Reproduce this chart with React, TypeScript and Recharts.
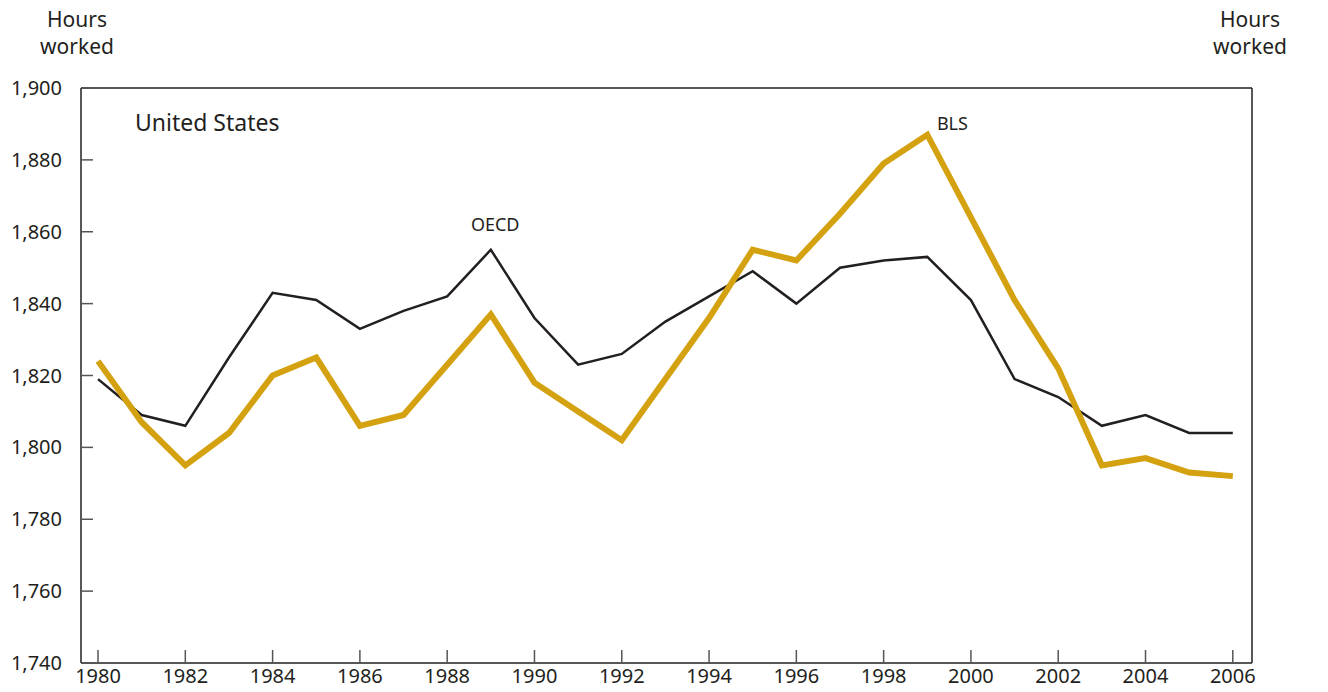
import { LineChart, Line, XAxis, YAxis, ReferenceLine, ReferenceDot } from "recharts";

const years = [
  1980, 1981, 1982, 1983, 1984, 1985, 1986, 1987, 1988, 1989, 1990, 1991, 1992,
  1993, 1994, 1995, 1996, 1997, 1998, 1999, 2000, 2001, 2002, 2003, 2004, 2005, 2006,
];
const oecd = [
  1819, 1809, 1806, 1825, 1843, 1841, 1833, 1838, 1842, 1855, 1836, 1823, 1826,
  1835, 1842, 1849, 1840, 1850, 1852, 1853, 1841, 1819, 1814, 1806, 1809, 1804, 1804,
];
const bls = [
  1824, 1807, 1795, 1804, 1820, 1825, 1806, 1809, 1823, 1837, 1818, 1810, 1802,
  1819, 1836, 1855, 1852, 1865, 1879, 1887, 1864, 1841, 1822, 1795, 1797, 1793, 1792,
];
const xTicks = [1980, 1982, 1984, 1986, 1988, 1990, 1992, 1994, 1996, 1998, 2000, 2002, 2004, 2006];
const yTicks = [1740, 1760, 1780, 1800, 1820, 1840, 1860, 1880, 1900];

const data = years.map((year, i) => ({ year, oecd: oecd[i], bls: bls[i] }));

const FONT = "'Noto Sans', 'Open Sans', sans-serif";
const INK = "#231f20";
const GOLD = "#d4a210";

const fmt = (v: number) => v.toLocaleString("en-US");

const tickStyle = { fill: INK, fontSize: 20, fontFamily: FONT };

// small text labels next to the two series
const seriesLabel = (text: string, anchor: "middle" | "start") => (props: any) => {
  const { viewBox } = props;
  return (
    <text x={viewBox.x} y={viewBox.y} fill={INK} fontSize={18} fontFamily={FONT} textAnchor={anchor}>
      {text}
    </text>
  );
};

export default function App() {
  return (
    <div style={{ position: "absolute", left: 0, top: 0, width: 1328, height: 692, background: "#fff" }}>
      <LineChart width={1328} height={692} data={data} margin={{ top: 88, right: 0, bottom: 0, left: 0 }}>
        <XAxis
          dataKey="year"
          type="number"
          domain={[1979.61, 2006.44]}
          ticks={xTicks}
          height={29}
          tickSize={-13}
          tickMargin={19}
          tick={tickStyle}
          axisLine={{ stroke: INK, strokeWidth: 1.5 }}
          tickLine={{ stroke: "#555", strokeWidth: 1.5 }}
          allowDataOverflow
        />
        <YAxis
          yAxisId="left"
          domain={[1740, 1900]}
          ticks={yTicks}
          width={81}
          tickSize={-12}
          tickMargin={31}
          tickFormatter={fmt}
          tick={tickStyle}
          axisLine={{ stroke: INK, strokeWidth: 1.5 }}
          tickLine={{ stroke: "#555", strokeWidth: 1.5 }}
        />
        <YAxis
          yAxisId="right"
          orientation="right"
          domain={[1740, 1900]}
          ticks={yTicks}
          width={76}
          tickSize={-12}
          tickMargin={19}
          tickFormatter={fmt}
          tick={tickStyle}
          axisLine={{ stroke: INK, strokeWidth: 1.5 }}
          tickLine={{ stroke: "#555", strokeWidth: 1.5 }}
        />
        <ReferenceLine yAxisId="left" y={1900} stroke={INK} strokeWidth={1.5} />
        <Line
          yAxisId="left"
          dataKey="oecd"
          stroke={INK}
          strokeWidth={2.5}
          dot={false}
          isAnimationActive={false}
        />
        <Line
          yAxisId="left"
          dataKey="bls"
          stroke={GOLD}
          strokeWidth={6}
          dot={false}
          isAnimationActive={false}
        />
        <ReferenceDot yAxisId="left" x={1989.1} y={1860.2} r={0} label={seriesLabel("OECD", "middle")} />
        <ReferenceDot yAxisId="left" x={1999.22} y={1888.3} r={0} label={seriesLabel("BLS", "start")} />
      </LineChart>
      <svg width={1328} height={692} style={{ position: "absolute", left: 0, top: 0, pointerEvents: "none" }}>
        <g fill={INK} fontFamily={FONT} fontSize={21} textAnchor="middle">
          <text x={77} y={27}>Hours</text>
          <text x={77} y={54}>worked</text>
          <text x={1250} y={27}>Hours</text>
          <text x={1250} y={54}>worked</text>
        </g>
        <text x={135} y={131} fill={INK} fontFamily={FONT} fontSize={23}>United States</text>
      </svg>
    </div>
  );
}
